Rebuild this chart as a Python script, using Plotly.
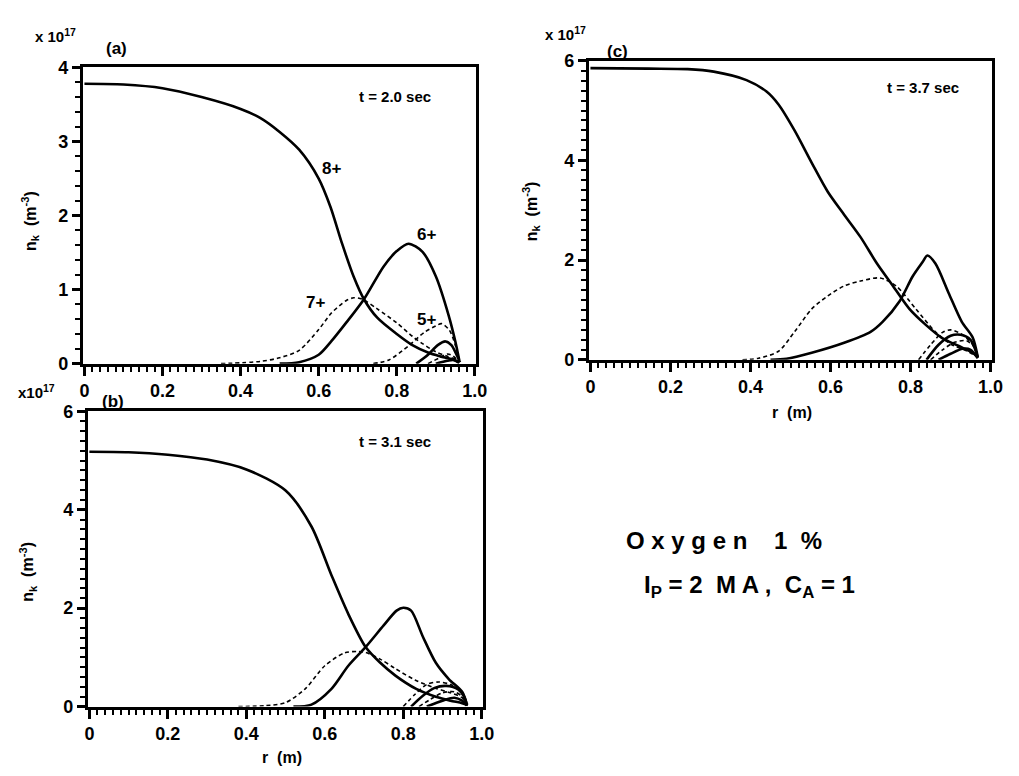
import plotly.graph_objects as go

# ---------------- data: ion densities n_k (x10^17 m^-3) vs minor radius r (m) ----------------
# Panel (a), t = 2.0 sec
r_a8 = [0, 0.1, 0.2, 0.3, 0.4, 0.45, 0.5, 0.55, 0.6, 0.63, 0.66, 0.69, 0.716, 0.75, 0.8, 0.84, 0.88, 0.91, 0.94, 0.958]
n_a8 = [3.78, 3.77, 3.72, 3.60, 3.44, 3.32, 3.13, 2.89, 2.50, 2.12, 1.62, 1.17, 0.87, 0.62, 0.40, 0.25, 0.15, 0.10, 0.06, 0.03]
r_a7 = [0.35, 0.45, 0.5, 0.55, 0.6, 0.632, 0.67, 0.69, 0.712, 0.75, 0.8, 0.84, 0.866, 0.9, 0.93, 0.96]
n_a7 = [0.0, 0.03, 0.08, 0.18, 0.46, 0.68, 0.85, 0.89, 0.87, 0.74, 0.55, 0.37, 0.27, 0.16, 0.10, 0.04]
r_a6 = [0.5, 0.55, 0.6, 0.632, 0.67, 0.716, 0.766, 0.8, 0.83, 0.866, 0.9, 0.933, 0.95, 0.96]
n_a6 = [0.0, 0.02, 0.12, 0.30, 0.55, 0.87, 1.31, 1.52, 1.62, 1.51, 1.18, 0.65, 0.30, 0.05]
r_a5 = [0.74, 0.78, 0.83, 0.87, 0.9, 0.915, 0.935, 0.95, 0.96]
n_a5 = [0.0, 0.05, 0.24, 0.42, 0.51, 0.54, 0.45, 0.25, 0.05]
r_a4 = [0.85, 0.88, 0.905, 0.925, 0.94, 0.955, 0.962]
n_a4 = [0.0, 0.12, 0.25, 0.30, 0.25, 0.10, 0.02]
r_a3 = [0.88, 0.91, 0.93, 0.945, 0.96]
n_a3 = [0.0, 0.08, 0.13, 0.10, 0.02]
r_a2 = [0.9, 0.93, 0.945, 0.96]
n_a2 = [0.0, 0.04, 0.05, 0.01]

# Panel (b), t = 3.1 sec
r_b8 = [0, 0.1, 0.2, 0.3, 0.4, 0.5, 0.566, 0.617, 0.66, 0.704, 0.74, 0.78, 0.833, 0.883, 0.92, 0.95, 0.965]
n_b8 = [5.18, 5.17, 5.12, 5.02, 4.82, 4.39, 3.66, 2.67, 1.88, 1.21, 0.90, 0.63, 0.36, 0.20, 0.12, 0.07, 0.03]
r_b7 = [0.38, 0.45, 0.5, 0.55, 0.6, 0.65, 0.683, 0.704, 0.742, 0.78, 0.83, 0.88, 0.92, 0.95, 0.962]
n_b7 = [0.0, 0.02, 0.08, 0.36, 0.83, 1.09, 1.12, 1.10, 0.96, 0.77, 0.54, 0.38, 0.28, 0.18, 0.05]
r_b6 = [0.52, 0.566, 0.617, 0.66, 0.704, 0.75, 0.783, 0.80, 0.82, 0.85, 0.883, 0.916, 0.95, 0.962]
n_b6 = [0.0, 0.04, 0.36, 0.83, 1.21, 1.65, 1.95, 2.01, 1.95, 1.42, 0.89, 0.56, 0.30, 0.05]
r_b5 = [0.8, 0.83, 0.86, 0.89, 0.92, 0.95, 0.962]
n_b5 = [0.0, 0.25, 0.45, 0.50, 0.45, 0.30, 0.05]
r_b4 = [0.82, 0.85, 0.88, 0.91, 0.94, 0.955, 0.962]
n_b4 = [0.0, 0.22, 0.38, 0.42, 0.35, 0.20, 0.03]
r_b3 = [0.84, 0.87, 0.9, 0.93, 0.95, 0.962]
n_b3 = [0.0, 0.15, 0.28, 0.30, 0.20, 0.03]
r_b2 = [0.86, 0.9, 0.93, 0.95, 0.962]
n_b2 = [0.0, 0.12, 0.18, 0.12, 0.02]

# Panel (c), t = 3.7 sec
r_c8 = [0, 0.145, 0.243, 0.308, 0.39, 0.44, 0.47, 0.51, 0.553, 0.593, 0.634, 0.675, 0.716, 0.756, 0.797, 0.838, 0.878, 0.919, 0.955, 0.968]
n_c8 = [5.85, 5.84, 5.83, 5.78, 5.61, 5.38, 5.12, 4.60, 3.95, 3.37, 2.91, 2.46, 1.93, 1.48, 1.02, 0.70, 0.44, 0.28, 0.14, 0.05]
r_c7 = [0.38, 0.42, 0.47, 0.51, 0.553, 0.593, 0.634, 0.675, 0.724, 0.764, 0.813, 0.862, 0.903, 0.94, 0.968]
n_c7 = [0.0, 0.03, 0.17, 0.56, 1.02, 1.28, 1.48, 1.58, 1.64, 1.48, 1.02, 0.56, 0.30, 0.18, 0.05]
r_c6 = [0.45, 0.49, 0.553, 0.634, 0.7, 0.73, 0.773, 0.805, 0.83, 0.842, 0.862, 0.895, 0.928, 0.955, 0.968]
n_c6 = [0.0, 0.02, 0.14, 0.34, 0.56, 0.76, 1.18, 1.67, 1.96, 2.09, 1.93, 1.34, 0.76, 0.45, 0.05]
r_c5 = [0.82, 0.85, 0.88, 0.9, 0.93, 0.955, 0.968]
n_c5 = [0.0, 0.30, 0.55, 0.60, 0.50, 0.30, 0.05]
r_c4 = [0.84, 0.87, 0.9, 0.925, 0.95, 0.968]
n_c4 = [0.0, 0.30, 0.48, 0.50, 0.40, 0.05]
r_c3 = [0.85, 0.88, 0.91, 0.94, 0.96, 0.968]
n_c3 = [0.0, 0.20, 0.35, 0.38, 0.25, 0.05]
r_c2 = [0.87, 0.9, 0.93, 0.95, 0.968]
n_c2 = [0.0, 0.12, 0.22, 0.20, 0.03]

x_tick_vals = [0, 0.2, 0.4, 0.6, 0.8, 1.0]
x_tick_text = ["0", "0.2", "0.4", "0.6", "0.8", "1.0"]
ya_tick_vals = [0, 1, 2, 3, 4]
ya_tick_text = ["0", "1", "2", "3", "4"]
ybc_tick_vals = [0, 2, 4, 6]
ybc_tick_text = ["0", "2", "4", "6"]

# ---------------- styling ----------------
FONT = "Liberation Sans"
W, H = 1019, 776
SOLID = dict(color="black", width=2.6)
DASHED = dict(color="black", width=1.6, dash="4px,3px")


def px(x):
    return x / W


def py(y):
    return 1 - y / H


fig = go.Figure()

panels = [
    ("x", "y", [(r_a8, n_a8, SOLID), (r_a7, n_a7, DASHED), (r_a6, n_a6, SOLID), (r_a5, n_a5, DASHED),
                (r_a4, n_a4, SOLID), (r_a3, n_a3, DASHED), (r_a2, n_a2, SOLID)]),
    ("x2", "y2", [(r_b8, n_b8, SOLID), (r_b7, n_b7, DASHED), (r_b6, n_b6, SOLID), (r_b5, n_b5, DASHED),
                  (r_b4, n_b4, SOLID), (r_b3, n_b3, DASHED), (r_b2, n_b2, SOLID)]),
    ("x3", "y3", [(r_c8, n_c8, SOLID), (r_c7, n_c7, DASHED), (r_c6, n_c6, SOLID), (r_c5, n_c5, DASHED),
                  (r_c4, n_c4, SOLID), (r_c3, n_c3, DASHED), (r_c2, n_c2, SOLID)]),
]
for xa, ya, curves in panels:
    for r, n, style in curves:
        fig.add_trace(go.Scatter(x=r, y=n, xaxis=xa, yaxis=ya, mode="lines",
                                 line=dict(shape="spline", smoothing=0.8, **style),
                                 showlegend=False, hoverinfo="skip"))

tickfont = dict(family=FONT, size=18, color="black")


def xaxis(domain, anchor):
    return dict(domain=domain, anchor=anchor, range=[-0.004, 1.004], showgrid=False, zeroline=False,
                showline=True, linewidth=3, linecolor="black", mirror=True,
                ticks="outside", ticklen=9, tickwidth=2.5, tickcolor="black",
                tickvals=x_tick_vals, ticktext=x_tick_text, tickfont=tickfont)


def yaxis(domain, anchor, top, vals, text):
    return dict(domain=domain, anchor=anchor, range=[0, top], showgrid=False, zeroline=False,
                showline=True, linewidth=3, linecolor="black", mirror=True,
                ticks="outside", ticklen=8, tickwidth=2.5, tickcolor="black",
                tickvals=vals, ticktext=text, tickfont=tickfont)


fig.update_layout(
    width=W, height=H, margin=dict(l=0, r=0, t=0, b=0),
    paper_bgcolor="white", plot_bgcolor="white",
    font=dict(family=FONT, color="black", weight="bold"),
    xaxis=xaxis([px(81), px(480)], "y"),
    yaxis=yaxis([py(363), py(59)], "x", 4, ya_tick_vals, ya_tick_text),
    xaxis2=xaxis([px(86), px(487)], "y2"),
    yaxis2=yaxis([py(715), py(412)], "x2", 6, ybc_tick_vals, ybc_tick_text),
    xaxis3=xaxis([px(594), px(1003)], "y3"),
    yaxis3=yaxis([py(359), py(52)], "x3", 6, ybc_tick_vals, ybc_tick_text),
)

# minor ticks
for ax, step in [("xaxis", 0.02), ("xaxis2", 0.02), ("xaxis3", 0.02),
                 ("yaxis", 0.2), ("yaxis2", 0.2), ("yaxis3", 0.2)]:
    fig.layout[ax].minor = dict(ticks="outside", ticklen=5, tickwidth=1.8, tickcolor="black",
                                dtick=step, tick0=0, showgrid=False)


def note(x, y, text, size=16, angle=0, xref="paper", yref="paper"):
    fig.add_annotation(x=x, y=y, xref=xref, yref=yref, text=text, showarrow=False,
                       textangle=angle, xanchor="center", yanchor="middle",
                       font=dict(family=FONT, size=size, color="black"))


# exponent markers and panel letters
note(px(53), py(26), "x 10<sup>17</sup>", 15)
note(px(34), py(392), "x10<sup>17</sup>", 15)
note(px(570), py(24), "x 10<sup>17</sup>", 15)
note(px(115), py(40), "(a)", 17)
note(px(112), py(402), "(b)", 17)
note(px(623), py(43), "(c)", 17)

# axis titles
ytitle = "n<sub>k</sub>  (m<sup>-3</sup>)"
note(px(28), py(217), ytitle, 16, -90)
note(px(25), py(577), ytitle, 16, -90)
note(px(535), py(207), ytitle, 16, -90)
note(px(283), py(767), "r  (m)", 16)
note(px(800), py(413), "r  (m)", 16)

# time stamps
note(px(397), py(89), "t = 2.0 sec", 15)
note(px(397), py(443), "t = 3.1 sec", 15)
note(px(933), py(80), "t = 3.7 sec", 15)

# charge-state labels, panel (a)
note(0.632, 2.64, "8+", 17, xref="x", yref="y")
note(0.877, 1.75, "6+", 17, xref="x", yref="y")
note(0.591, 0.83, "7+", 17, xref="x", yref="y")
note(0.877, 0.59, "5+", 17, xref="x", yref="y")

# run parameters
note(px(731), py(545), "O x y g e n    1  %", 24)
note(px(757), py(592), "I<sub>P</sub> = 2  M A ,  C<sub>A</sub> = 1", 24)

fig.write_html("out.html")
